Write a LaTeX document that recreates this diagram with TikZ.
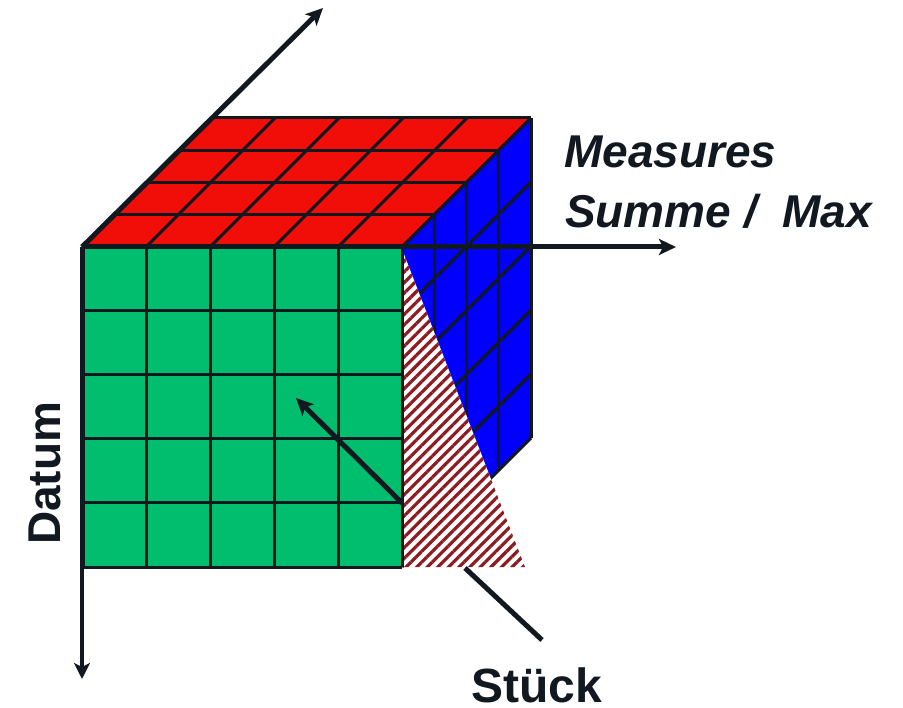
\documentclass[tikz,border=0pt]{standalone}
\usepackage{fontspec}
\setmainfont{Liberation Sans}
\usetikzlibrary{arrows.meta,patterns.meta}
\definecolor{gridline}{RGB}{17,24,32}
\definecolor{topred}{RGB}{242,14,8}
\definecolor{sideblue}{RGB}{0,0,252}
\definecolor{frontgreen}{RGB}{0,190,110}
\definecolor{hatchred}{RGB}{140,28,34}
\begin{document}
\begin{tikzpicture}[x=1pt,y=-1pt,
  gridln/.style={draw=gridline,line width=3pt},
  axisarrow/.style={draw=gridline,line width=5pt,-{Stealth[length=17pt,width=16pt,inset=4pt]}},
  thinarrow/.style={draw=gridline,line width=4pt,-{Stealth[length=16pt,width=16pt,inset=4pt]}},
  pointer/.style={draw=gridline,line width=5pt},
  lbl/.style={anchor=base west,inner sep=0pt,text=gridline}]
\useasboundingbox (0,0) rectangle (903,708);
% key corners
\coordinate (O) at (82,247);
\coordinate (FR) at (402,247);
\coordinate (BL) at (211,118);
\coordinate (BR) at (531,118);
\coordinate (FBL) at (82,567);
\coordinate (FBR) at (402,567);
\coordinate (RBR) at (531,438);
% top face
\fill[topred] (O) -- (BL) -- (BR) -- (FR) -- cycle;
\foreach \k in {0,...,4}
  \draw[gridln] (82+32.25*\k,247-32.25*\k) -- (402+32.25*\k,247-32.25*\k);
\foreach \j in {0,...,5}
  \draw[gridln] (82+64*\j,247) -- (211+64*\j,118);
% right face
\fill[sideblue] (FR) -- (BR) -- (RBR) -- (FBR) -- cycle;
\foreach \k in {0,...,4}
  \draw[gridln] (402+32.25*\k,247-32.25*\k) -- (402+32.25*\k,567-32.25*\k);
\foreach \i in {0,...,5}
  \draw[gridln] (402,247+64*\i) -- (531,118+64*\i);
% hatched slice
\coordinate (HT) at (402,249);
\coordinate (HR) at (525,567);
\fill[white] (HT) -- (HR) -- (FBR) -- cycle;
\fill[pattern={Lines[angle=45,distance=7.5pt,line width=3.2pt]},pattern color=hatchred] (HT) -- (HR) -- (FBR) -- cycle;
% front face
\fill[frontgreen] (O) rectangle (FBR);
\foreach \i in {0,...,5} {
  \draw[gridln] (82,247+64*\i) -- (402,247+64*\i);
  \draw[gridln] (82+64*\i,247) -- (82+64*\i,567);
}
% axes
\coordinate (Yend) at (323,8);
\coordinate (Xend) at (676,247);
\coordinate (Zend) at (82,679);
\draw[axisarrow] (O) -- (Yend);
\draw[axisarrow] (O) -- (Xend);
\draw[thinarrow] (O) -- (Zend);
\draw[line width=5pt,draw=gridline] (O) -- (FBL);
% inner arrow
\coordinate (Astart) at (402,503);
\coordinate (Aend) at (296,398);
\draw[axisarrow] (Astart) -- (Aend);
% labels
\node[lbl,font=\fontsize{46}{55}\selectfont\bfseries\itshape] (measures) at (564,168) {Measures};
\node[lbl,font=\fontsize{46}{55}\selectfont\bfseries\itshape] (summe) at (565,228) {Summe /\ \ Max};
\node[lbl,font=\fontsize{48}{58}\selectfont\bfseries] (stueck) at (471,702) {Stück};
\node[lbl,rotate=90,font=\fontsize{46}{55}\selectfont\bfseries] (datum) at (60,545) {Datum};
% pointer to Stueck
\coordinate (Pstart) at (465,568);
\coordinate (Pend) at (542,640);
\draw[pointer] (Pstart) -- (Pend);
\end{tikzpicture}
\end{document}
